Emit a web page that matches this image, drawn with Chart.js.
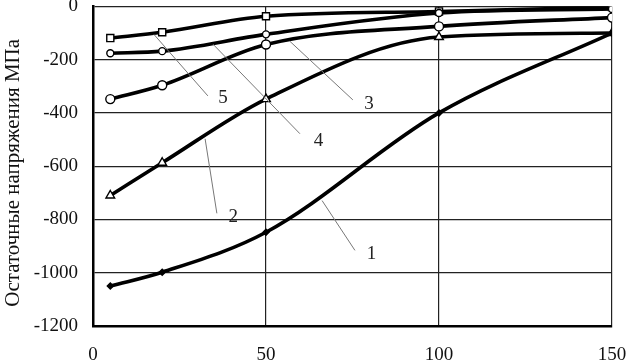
<!DOCTYPE html>
<html>
<head>
<meta charset="utf-8">
<script src="https://cdn.jsdelivr.net/npm/chart.js@4"></script>
<style>
html,body{margin:0;padding:0;background:#fff;}
#wrap{width:627px;height:363px;position:relative;}
</style>
</head>
<body>
<div id="wrap"><canvas id="c" width="627" height="363"></canvas></div>
<script>
const xValues = [5, 20, 50, 100, 150];
const curve1 = [-1050, -998, -848, -400, -100];
const curve2 = [-710, -587, -348, -115, -100];
const curve3 = [-348, -296, -143, -75, -42];
const curve4 = [-176, -168, -105, -25, -10];
const curve5 = [-119, -97, -37, -19, -2];
const xTicks = [0, 50, 100, 150];
const yTicks = [0, -200, -400, -600, -800, -1000, -1200];
const yTitle = 'Остаточные напряжения МПа';
const curveLabels = ['1', '2', '3', '4', '5'];
// callout leader lines in data coordinates: [x1,y1,x2,y2,labelX,labelY]
const callouts = [
  [66.2, -729, 75.7, -916, 80.5, -931],
  [32.4, -497, 35.8, -777, 40.5, -792],
  [56.9, -131, 75.1, -351, 79.8, -366],
  [34.7, -142, 59.8, -478, 65.2, -505],
  [17.6, -105, 33.2, -336, 37.6, -344]
];

function pts(ys){ return xValues.map((x,i)=>({x:x, y:ys[i]})); }

const base = {
  borderColor:'#000', borderWidth:3.6, pointBorderColor:'#000', pointBorderWidth:1.4,
  pointBackgroundColor:'#fff', cubicInterpolationMode:'monotone', fill:false
};

const serif = '"Liberation Serif", "DejaVu Serif", serif';

const calloutPlugin = {
  id:'callouts',
  afterDatasetsDraw(chart){
    const ctx = chart.ctx, xs = chart.scales.x, ys = chart.scales.y;
    ctx.save();
    ctx.strokeStyle = '#777';
    ctx.lineWidth = 1;
    ctx.fillStyle = '#222';
    ctx.font = '19px ' + serif;
    ctx.textAlign = 'center';
    ctx.textBaseline = 'middle';
    callouts.forEach((c,i)=>{
      ctx.beginPath();
      ctx.moveTo(xs.getPixelForValue(c[0]), ys.getPixelForValue(c[1]));
      ctx.lineTo(xs.getPixelForValue(c[2]), ys.getPixelForValue(c[3]));
      ctx.stroke();
      ctx.fillText(curveLabels[i], xs.getPixelForValue(c[4]), ys.getPixelForValue(c[5]));
    });
    // y axis title
    ctx.translate(13, ys.getPixelForValue(-625));
    ctx.rotate(-Math.PI/2);
    ctx.fillStyle = '#111';
    ctx.font = '21px ' + serif;
    ctx.fillText(yTitle, 0, 0);
    ctx.restore();
  }
};

const tickFont = {family:serif, size:19};

new Chart(document.getElementById('c'), {
  type:'line',
  data:{
    datasets:[
      Object.assign({}, base, {label:'1', data:pts(curve1), pointStyle:'rectRot', pointRadius:3, pointBackgroundColor:'#000'}),
      Object.assign({}, base, {label:'2', data:pts(curve2), pointStyle:'triangle', pointRadius:5}),
      Object.assign({}, base, {label:'3', data:pts(curve3), pointStyle:'circle', pointRadius:4.5}),
      Object.assign({}, base, {label:'4', data:pts(curve4), pointStyle:'circle', pointRadius:3.5}),
      Object.assign({}, base, {label:'5', data:pts(curve5), pointStyle:'rect', pointRadius:5})
    ]
  },
  options:{
    responsive:false, animation:false, devicePixelRatio:1,
    layout:{padding:{top:5, right:15, left:0, bottom:0}},
    plugins:{legend:{display:false}, tooltip:{enabled:false}},
    scales:{
      x:{
        type:'linear', min:0, max:150,
        afterBuildTicks(s){ s.ticks = xTicks.map(v=>({value:v})); },
        afterFit(s){ s.height = 37; s.paddingLeft = 0; s.paddingRight = 0; },
        grid:{color:'#222', lineWidth:1.2, drawTicks:false},
        border:{color:'#000', width:2.5},
        ticks:{color:'#111', padding:18, maxRotation:0, font:tickFont, callback:v=>String(v)}
      },
      y:{
        type:'linear', min:-1200, max:0,
        afterBuildTicks(s){ s.ticks = yTicks.map(v=>({value:v})); },
        afterFit(s){ s.width = 93; s.paddingTop = 0; s.paddingBottom = 0; },
        grid:{color:'#222', lineWidth:1.2, drawTicks:false},
        border:{color:'#000', width:2.5},
        title:{display:false},
        ticks:{color:'#111', padding:15, font:tickFont, callback:v=>String(v)}
      }
    }
  },
  plugins:[calloutPlugin]
});
</script>
</body>
</html>
